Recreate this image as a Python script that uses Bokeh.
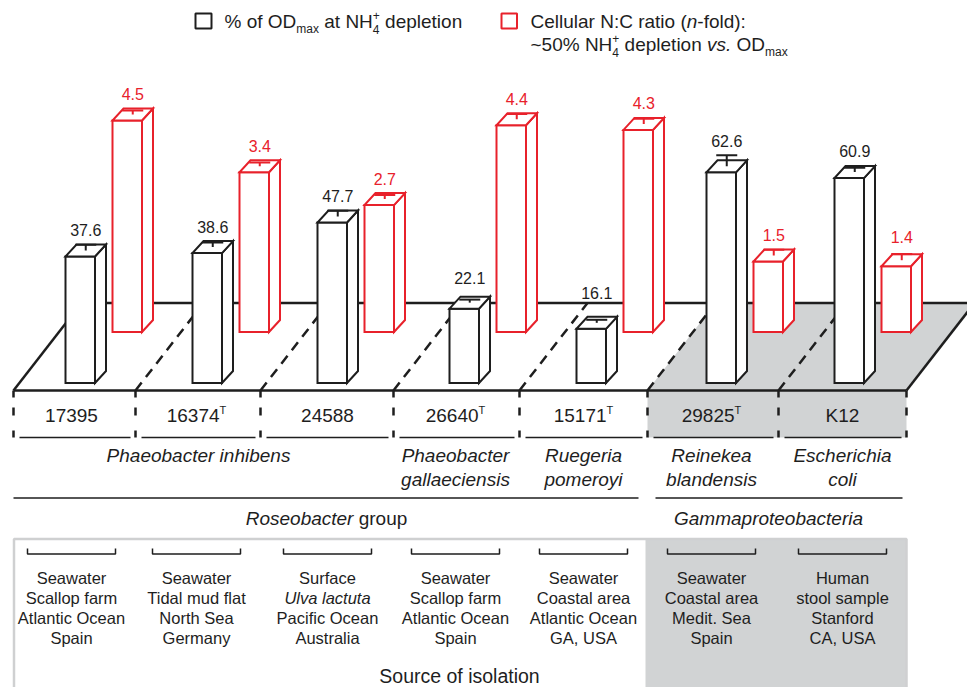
from bokeh.plotting import figure
from bokeh.models import Range1d
from bokeh.embed import file_html
from bokeh.resources import INLINE
from bokeh.core.properties import value

# ---------------- data ----------------
strains = ["17395", "16374", "24588", "26640", "15171", "29825", "K12"]
type_strain = [False, True, False, True, True, True, False]
od_pct = [37.6, 38.6, 47.7, 22.1, 16.1, 62.6, 60.9]
od_err = [1.7, 1.4, 1.7, 0.9, 0.9, 3.3, 1.3]
nc_ratio = [4.5, 3.4, 2.7, 4.4, 4.3, 1.5, 1.4]
nc_err = [0.085, 0.08, 0.085, 0.11, 0.11, 0.12, 0.13]
species = [["Phaeobacter inhibens"], ["Phaeobacter", "gallaeciensis"], ["Ruegeria", "pomeroyi"],
           ["Reinekea", "blandensis"], ["Escherichia", "coli"]]
species_cols = [[0, 1, 2], [3], [4], [5], [6]]
groups = [("Roseobacter", " group"), ("Gammaproteobacteria", "")]
sources = [
    ["Seawater", "Scallop farm", "Atlantic Ocean", "Spain"],
    ["Seawater", "Tidal mud flat", "North Sea", "Germany"],
    ["Surface", "Ulva lactuta", "Pacific Ocean", "Australia"],
    ["Seawater", "Scallop farm", "Atlantic Ocean", "Spain"],
    ["Seawater", "Coastal area", "Atlantic Ocean", "GA, USA"],
    ["Seawater", "Coastal area", "Medit. Sea", "Spain"],
    ["Human", "stool sample", "Stanford", "CA, USA"],
]
source_italic = [(2, 1)]

# ---------------- layout / style ----------------
FONT = "Liberation Sans"
BLACK = "#1e1e1e"
RED = "#e8212b"
GRAY = "#d1d3d4"
BOXGRAY = "#cfd0d1"
seps = [13, 135, 260, 393, 519, 647, 778, 906]
centers = [71, 196, 327, 455, 583, 711, 842]
bar_left = [65, 192, 317, 449, 576, 706, 834]
black_label_nudge = [0, 0, 0, -4, -9, 0, 0]
red_label_nudge = [0, 0, 0, 0, 0, 0, -2]
red_shift = 47
BW, DX, DY = 29.5, 11, 12
BLACK_BASE, RED_BASE = 382.5, 331.5
BLACK_SCALE, RED_SCALE = 3.365, 47.0
FRONT_Y, BACK_Y = 390, 302.5
FDX = 68
group_x = [326, 768]
PW, PH = 967, 687
BASE_FIX = 0.35  # renderer places "alphabetic" text about this many ems low

W = {' ': 278, '!': 278, '%': 889, '(': 333, ')': 333, '+': 584, ',': 278, '-': 333, '.': 278,
     ':': 278, '~': 584, 'A': 667, 'B': 667, 'C': 722, 'D': 722, 'E': 667, 'F': 611, 'G': 778,
     'H': 722, 'I': 278, 'J': 500, 'K': 667, 'L': 556, 'M': 833, 'N': 722, 'O': 778, 'P': 667,
     'Q': 778, 'R': 722, 'S': 667, 'T': 611, 'U': 722, 'V': 667, 'W': 944, 'X': 667, 'Y': 667,
     'Z': 611, 'a': 556, 'b': 556, 'c': 500, 'd': 556, 'e': 556, 'f': 278, 'g': 556, 'h': 556,
     'i': 222, 'j': 222, 'k': 500, 'l': 222, 'm': 833, 'n': 556, 'o': 556, 'p': 556, 'q': 556,
     'r': 333, 's': 500, 't': 278, 'u': 556, 'v': 500, 'w': 722, 'x': 500, 'y': 500, 'z': 500}


def tw(s, size):
    return sum(W.get(c, 556) for c in s) / 1000.0 * size


p = figure(width=PW, height=PH, x_range=Range1d(0, PW), y_range=Range1d(PH, 0),
           output_backend="svg", toolbar_location=None, min_border=0,
           x_axis_location=None, y_axis_location=None)
p.grid.visible = False
p.outline_line_color = None
p.background_fill_color = "white"
p.border_fill_color = "white"


def txt(x, y, s, size, style="normal", color=BLACK, align="left"):
    p.text(x=[x], y=[y - BASE_FIX * size], text=[s], text_font=value(FONT), text_font_size=f"{size}px",
           text_font_style=style, text_color=color, text_align=align, text_baseline="alphabetic")


def rich(x, y, parts, align="center", color=BLACK):
    # parts: (text, size, style, dy) or ("STACK", sup, sub, size)
    def pw(pt):
        if pt[0] == "STACK":
            return max(tw(pt[1], pt[3]), tw(pt[2], pt[3]))
        return tw(pt[0], pt[1])
    total = sum(pw(pt) for pt in parts)
    cx = x - total / 2 if align == "center" else x
    for pt in parts:
        if pt[0] == "STACK":
            _, sup, sub, size = pt
            txt(cx, y - 8.5, sup, size, color=color)
            txt(cx, y + 5, sub, size, color=color)
        else:
            s, size, style, dy = pt
            lead = len(s) - len(s.lstrip(" "))
            st = s.strip(" ")
            if st:
                txt(cx + tw(" " * lead, size), y + dy, st, size, style, color)
        cx += pw(pt)


# ---------------- backgrounds ----------------
p.patch(x=[seps[5], seps[5] + FDX, seps[7] + FDX, seps[7]], y=[FRONT_Y, BACK_Y, BACK_Y, FRONT_Y],
        fill_color=GRAY, line_color=None)
p.quad(left=[seps[5]], right=[seps[7]], top=[FRONT_Y], bottom=[437], fill_color=GRAY, line_color=None)
p.quad(left=[645], right=[seps[7]], top=[538], bottom=[692], fill_color=GRAY, line_color=None)
p.quad(left=[13.5], right=[seps[7]], top=[538.5], bottom=[692], fill_color=None,
       line_color=BOXGRAY, line_width=2.5)

# ---------------- floor ----------------
p.segment(x0=[seps[0], seps[0] + FDX, seps[0], seps[7]], y0=[FRONT_Y, BACK_Y, FRONT_Y, FRONT_Y],
          x1=[seps[7], seps[7] + FDX, seps[0] + FDX, seps[7] + FDX], y1=[FRONT_Y, BACK_Y, BACK_Y, BACK_Y],
          line_color=BLACK, line_width=2.5)
inner = seps[1:-1]
p.segment(x0=inner, y0=[FRONT_Y] * len(inner), x1=[s + FDX for s in inner], y1=[BACK_Y] * len(inner),
          line_color=BLACK, line_width=2.5, line_dash="10 7")
for y0, y1 in [(FRONT_Y, 397), (407, 415), (430, 437)]:
    p.segment(x0=seps, y0=[y0] * len(seps), x1=seps, y1=[y1] * len(seps), line_color=BLACK, line_width=2.5)
p.segment(x0=[s + 6 for s in seps[:-1]], y0=[437] * 7, x1=[s - 5 for s in seps[1:]], y1=[437] * 7,
          line_color=BLACK, line_width=1.5)


# ---------------- bars ----------------
def bars(lefts, vals, errs, base, scale, color, nudges):
    fx, fy, sx, sy, ux, uy = [], [], [], [], [], []
    ex0, ey0, ey1, cx0, cx1 = [], [], [], [], []
    for x0, v, e, nd in zip(lefts, vals, errs, nudges):
        top = base - v * scale
        fx.append([x0, x0 + BW, x0 + BW, x0]); fy.append([base, base, top, top])
        sx.append([x0 + BW, x0 + BW + DX, x0 + BW + DX, x0 + BW]); sy.append([base, base - DY, top - DY, top])
        ux.append([x0, x0 + BW, x0 + BW + DX, x0 + DX]); uy.append([top, top, top - DY, top - DY])
        mx, my = x0 + BW / 2 + DX / 2, top - DY / 2
        cap = my - e * scale
        ex0.append(mx); ey0.append(my); ey1.append(cap); cx0.append(mx - 10.5); cx1.append(mx + 10.5)
        lab_y = min(cap, top - DY) - 9 + nd
        txt(x0 + (BW + DX) / 2, lab_y, f"{v:.1f}", 16, color=color, align="center")
    for xs, ys in [(fx, fy), (sx, sy), (ux, uy)]:
        p.patches(xs=xs, ys=ys, fill_color="white", line_color=color, line_width=2, line_join="miter")
    p.segment(x0=ex0, y0=ey0, x1=ex0, y1=ey1, line_color=color, line_width=2)
    p.segment(x0=cx0, y0=ey1, x1=cx1, y1=ey1, line_color=color, line_width=2)


bars([b + red_shift for b in bar_left], nc_ratio, nc_err, RED_BASE, RED_SCALE, RED, red_label_nudge)
bars(bar_left, od_pct, od_err, BLACK_BASE, BLACK_SCALE, BLACK, black_label_nudge)

# ---------------- legend ----------------
p.quad(left=[195], right=[211], top=[13], bottom=[28], fill_color="white", line_color=BLACK, line_width=2)
p.quad(left=[501], right=[516.5], top=[13], bottom=[28], fill_color="white", line_color=RED, line_width=2)
rich(224, 28, [("% of OD", 19, "normal", 0), ("max", 12, "normal", 5), (" at NH", 19, "normal", 0),
               ("STACK", "+", "4", 12), (" depletion", 19, "normal", 0)], align="left")
rich(530, 28, [("Cellular N:C ratio (", 19, "normal", 0), ("n", 19, "italic", 0),
               ("-fold):", 19, "normal", 0)], align="left")
rich(530, 51, [("~50% NH", 19, "normal", 0), ("STACK", "+", "4", 12), (" depletion ", 19, "normal", 0),
               ("vs.", 19, "italic", 0), (" OD", 19, "normal", 0), ("max", 12, "normal", 5)], align="left")

# ---------------- strain labels ----------------
for c, s, t in zip(centers, strains, type_strain):
    parts = [(s, 19, "normal", 0)]
    if t:
        parts.append(("T", 11, "normal", -8))
    rich(c, 421.5, parts)

# species
for names, cols in zip(species, species_cols):
    cx = sum(centers[i] for i in cols) / len(cols)
    for k, nm in enumerate(names):
        txt(cx, 461.5 + 24 * k, nm, 19, "italic", align="center")

# group lines and labels
p.segment(x0=[seps[0], seps[5] + 8], y0=[497.5, 497.5], x1=[seps[5] - 9, seps[7] - 4], y1=[497.5, 497.5],
          line_color=BLACK, line_width=1.5)
for gx, (it, rest) in zip(group_x, groups):
    rich(gx, 525, [(it, 19, "italic", 0), (rest, 19, "normal", 0)])

# brackets
bx, by = [], []
for c in centers:
    bx.append([c - 44, c - 44, c + 44, c + 44]); by.append([548, 553.5, 553.5, 548])
p.multi_line(xs=bx, ys=by, line_color=BLACK, line_width=1.5)

# sources
for i, (c, lines) in enumerate(zip(centers, sources)):
    for k, ln in enumerate(lines):
        style = "italic" if (i, k) in source_italic else "normal"
        txt(c, 583.5 + 20 * k, ln, 16.5, style, align="center")

txt(459, 682.5, "Source of isolation", 19.5, align="center")

open("out.html", "w").write(file_html(p, INLINE))
